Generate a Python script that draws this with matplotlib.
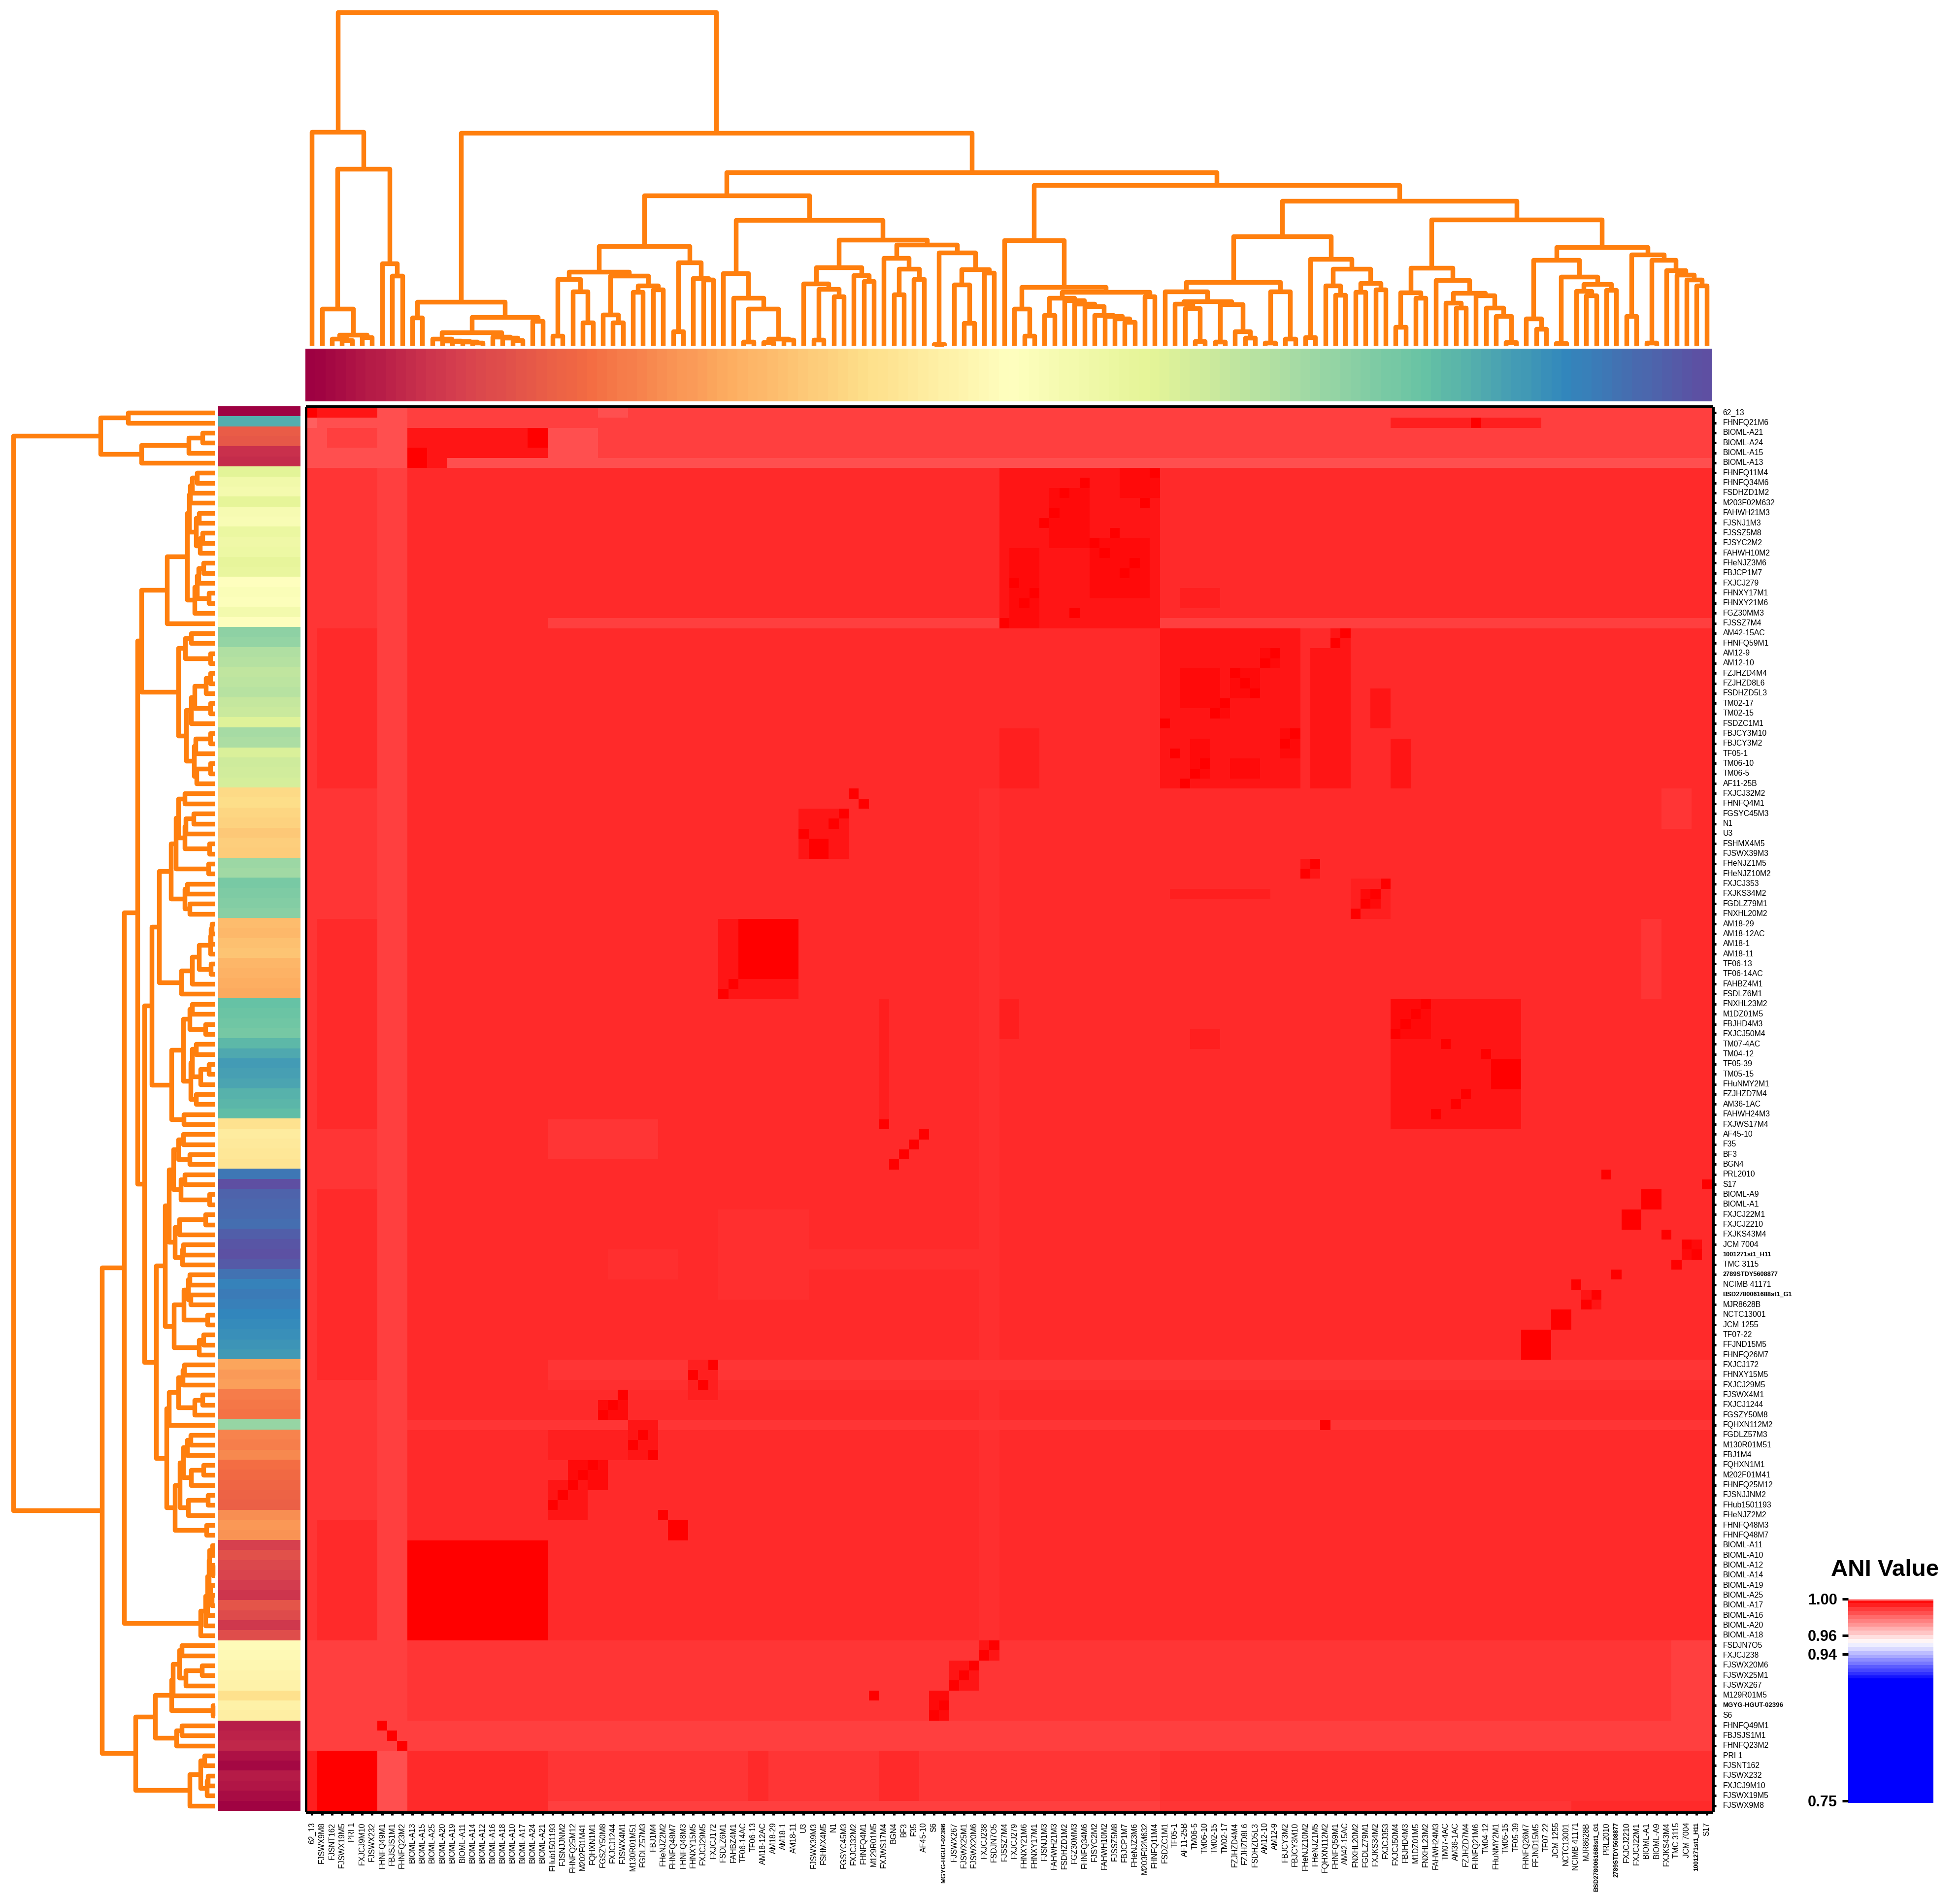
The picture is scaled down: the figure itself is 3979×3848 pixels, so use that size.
import numpy as np
import matplotlib
matplotlib.use('Agg')
import matplotlib.pyplot as plt
from matplotlib.colors import LinearSegmentedColormap

plt.rcParams['font.family'] = ['Liberation Sans', 'DejaVu Sans']

W, H, DPI = 3979, 3848, 300
ORANGE = '#ff7f0e'

row_labels = [
    '62_13', 'FHNFQ21M6', 'BIOML-A21', 'BIOML-A24', 'BIOML-A15', 'BIOML-A13', 'FHNFQ11M4', 'FHNFQ34M6',
    'FSDHZD1M2', 'M203F02M632', 'FAHWH21M3', 'FJSNJ1M3', 'FJSSZ5M8', 'FJSYC2M2', 'FAHWH10M2', 'FHeNJZ3M6',
    'FBJCP1M7', 'FXJCJ279', 'FHNXY17M1', 'FHNXY21M6', 'FGZ30MM3', 'FJSSZ7M4', 'AM42-15AC', 'FHNFQ59M1',
    'AM12-9', 'AM12-10', 'FZJHZD4M4', 'FZJHZD8L6', 'FSDHZD5L3', 'TM02-17', 'TM02-15', 'FSDZC1M1',
    'FBJCY3M10', 'FBJCY3M2', 'TF05-1', 'TM06-10', 'TM06-5', 'AF11-25B', 'FXJCJ32M2', 'FHNFQ4M1',
    'FGSYC45M3', 'N1', 'U3', 'FSHMX4M5', 'FJSWX39M3', 'FHeNJZ1M5', 'FHeNJZ10M2', 'FXJCJ353',
    'FXJKS34M2', 'FGDLZ79M1', 'FNXHL20M2', 'AM18-29', 'AM18-12AC', 'AM18-1', 'AM18-11', 'TF06-13',
    'TF06-14AC', 'FAHBZ4M1', 'FSDLZ6M1', 'FNXHL23M2', 'M1DZ01M5', 'FBJHD4M3', 'FXJCJ50M4', 'TM07-4AC',
    'TM04-12', 'TF05-39', 'TM05-15', 'FHuNMY2M1', 'FZJHZD7M4', 'AM36-1AC', 'FAHWH24M3', 'FXJWS17M4',
    'AF45-10', 'F35', 'BF3', 'BGN4', 'PRL2010', 'S17', 'BIOML-A9', 'BIOML-A1',
    'FXJCJ22M1', 'FXJCJ2210', 'FXJKS43M4', 'JCM 7004', '1001271st1_H11', 'TMC 3115', '2789STDY5608877', 'NCIMB 41171',
    'BSD2780061688st1_G1', 'MJR8628B', 'NCTC13001', 'JCM 1255', 'TF07-22', 'FFJND15M5', 'FHNFQ26M7', 'FXJCJ172',
    'FHNXY15M5', 'FXJCJ29M5', 'FJSWX4M1', 'FXJCJ1244', 'FGSZY50M8', 'FQHXN112M2', 'FGDLZ57M3', 'M130R01M51',
    'FBJ1M4', 'FQHXN1M1', 'M202F01M41', 'FHNFQ25M12', 'FJSNJJNM2', 'FHub1501193', 'FHeNJZ2M2', 'FHNFQ48M3',
    'FHNFQ48M7', 'BIOML-A11', 'BIOML-A10', 'BIOML-A12', 'BIOML-A14', 'BIOML-A19', 'BIOML-A25', 'BIOML-A17',
    'BIOML-A16', 'BIOML-A20', 'BIOML-A18', 'FSDJN7O5', 'FXJCJ238', 'FJSWX20M6', 'FJSWX25M1', 'FJSWX267',
    'M129R01M5', 'MGYG-HGUT-02396', 'S6', 'FHNFQ49M1', 'FBJSJS1M1', 'FHNFQ23M2', 'PRI 1', 'FJSNT162',
    'FJSWX232', 'FXJCJ9M10', 'FJSWX19M5', 'FJSWX9M8',
]

col_labels = [
    '62_13', 'FJSWX9M8', 'FJSNT162', 'FJSWX19M5', 'PRI 1', 'FXJCJ9M10', 'FJSWX232', 'FHNFQ49M1',
    'FBJSJS1M1', 'FHNFQ23M2', 'BIOML-A13', 'BIOML-A15', 'BIOML-A25', 'BIOML-A20', 'BIOML-A19', 'BIOML-A11',
    'BIOML-A14', 'BIOML-A12', 'BIOML-A16', 'BIOML-A18', 'BIOML-A10', 'BIOML-A17', 'BIOML-A24', 'BIOML-A21',
    'FHub1501193', 'FJSNJJNM2', 'FHNFQ25M12', 'M202F01M41', 'FQHXN1M1', 'FGSZY50M8', 'FXJCJ1244', 'FJSWX4M1',
    'M130R01M51', 'FGDLZ57M3', 'FBJ1M4', 'FHeNJZ2M2', 'FHNFQ48M7', 'FHNFQ48M3', 'FHNXY15M5', 'FXJCJ29M5',
    'FXJCJ172', 'FSDLZ6M1', 'FAHBZ4M1', 'TF06-14AC', 'TF06-13', 'AM18-12AC', 'AM18-29', 'AM18-1',
    'AM18-11', 'U3', 'FJSWX39M3', 'FSHMX4M5', 'N1', 'FGSYC45M3', 'FXJCJ32M2', 'FHNFQ4M1',
    'M129R01M5', 'FXJWS17M4', 'BGN4', 'BF3', 'F35', 'AF45-10', 'S6', 'MGYG-HGUT-02396',
    'FJSWX267', 'FJSWX25M1', 'FJSWX20M6', 'FXJCJ238', 'FSDJN7O5', 'FJSSZ7M4', 'FXJCJ279', 'FHNXY21M6',
    'FHNXY17M1', 'FJSNJ1M3', 'FAHWH21M3', 'FSDHZD1M2', 'FGZ30MM3', 'FHNFQ34M6', 'FJSYC2M2', 'FAHWH10M2',
    'FJSSZ5M8', 'FBJCP1M7', 'FHeNJZ3M6', 'M203F02M632', 'FHNFQ11M4', 'FSDZC1M1', 'TF05-1', 'AF11-25B',
    'TM06-5', 'TM06-10', 'TM02-15', 'TM02-17', 'FZJHZD4M4', 'FZJHZD8L6', 'FSDHZD5L3', 'AM12-10',
    'AM12-9', 'FBJCY3M2', 'FBJCY3M10', 'FHeNJZ10M2', 'FHeNJZ1M5', 'FQHXN112M2', 'FHNFQ59M1', 'AM42-15AC',
    'FNXHL20M2', 'FGDLZ79M1', 'FXJKS34M2', 'FXJCJ353', 'FXJCJ50M4', 'FBJHD4M3', 'M1DZ01M5', 'FNXHL23M2',
    'FAHWH24M3', 'TM07-4AC', 'AM36-1AC', 'FZJHZD7M4', 'FHNFQ21M6', 'TM04-12', 'FHuNMY2M1', 'TM05-15',
    'TF05-39', 'FHNFQ26M7', 'FFJND15M5', 'TF07-22', 'JCM 1255', 'NCTC13001', 'NCIMB 41171', 'MJR8628B',
    'BSD2780061688st1_G1', 'PRL2010', '2789STDY5608877', 'FXJCJ2210', 'FXJCJ22M1', 'BIOML-A1', 'BIOML-A9', 'FXJKS43M4',
    'TMC 3115', 'JCM 7004', '1001271st1_H11', 'S17',
]

small_labels = {'MGYG-HGUT-02396': 3.2, 'BSD2780061688st1_G1': 3.05, '1001271st1_H11': 3.1, '2789STDY5608877': 3.05}

# ANI levels
PURE, V1, V2, V3, BASE, FAINT, L1, L2, L3, L4 = 1.0, 0.9975, 0.9952, 0.9935, 0.9917, 0.9905, 0.9895, 0.9882, 0.9853, 0.9823

# row from, row to, col from, col to (inclusive), ANI; later ones sit on top of earlier ones
lighter_bands = [
    (6, 122, 0, 0, L1), (6, 21, 1, 6, L1), (38, 50, 1, 6, L1), (72, 77, 1, 6, L1), (97, 110, 1, 6, L1),
    (6, 130, 7, 9, L2), (131, 139, 7, 9, L3),
    (38, 133, 67, 68, FAINT),
    (21, 21, 24, 139, L2), (101, 101, 10, 139, L1), (95, 96, 24, 139, L1), (97, 97, 24, 139, FAINT),
    (123, 130, 0, 9, L2), (123, 130, 10, 139, L1), (131, 133, 0, 139, L2),
    (134, 138, 10, 23, BASE), (134, 138, 24, 84, L1), (139, 139, 24, 84, L2),
    (134, 138, 85, 139, FAINT), (139, 139, 85, 125, L1), (134, 138, 44, 45, BASE), (134, 138, 57, 60, BASE),
    (134, 139, 7, 9, L3), (123, 133, 136, 139, L2), (71, 74, 24, 34, L1), (38, 41, 135, 137, L1),
    (51, 58, 133, 134, L1), (80, 88, 41, 49, FAINT), (84, 86, 30, 36, FAINT), (84, 85, 50, 68, FAINT),
]
top_rows = [
    (0, 5, 0, 139, L2), (5, 5, 0, 139, L3), (0, 1, 7, 9, L3), (1, 5, 0, 0, L4), (1, 1, 1, 6, L3),
    (2, 3, 0, 1, L3), (2, 4, 2, 6, L2), (4, 5, 0, 6, L3), (2, 5, 7, 9, L3),
    (2, 5, 24, 28, L3), (0, 0, 1, 6, V2), (0, 0, 29, 31, L3), (1, 1, 108, 122, V3),
]
close_blocks = [
    # BIOML
    (2, 4, 10, 23, V2), (5, 5, 10, 13, V2), (2, 3, 22, 23, PURE), (4, 5, 10, 11, PURE), (113, 122, 10, 23, PURE),
    # FJSWX / PRI
    (134, 139, 1, 6, PURE), (134, 139, 0, 0, V3),
    # rows FHNFQ11M4..FJSSZ7M4
    (6, 21, 69, 84, V2), (8, 13, 74, 77, V1), (13, 18, 78, 83, V1), (6, 8, 81, 84, V1), (14, 21, 70, 72, V1),
    (18, 19, 87, 90, V3),
    # rows AM42..AF11
    (22, 37, 85, 98, V2), (26, 28, 92, 94, V1), (26, 29, 87, 90, V1), (29, 30, 90, 91, V1), (24, 25, 95, 96, V1),
    (33, 36, 88, 89, V1), (35, 36, 92, 94, V1), (32, 34, 97, 98, V1), (24, 37, 100, 103, V2),
    (28, 31, 106, 107, V2), (33, 37, 108, 109, V2), (32, 37, 69, 72, V3), (22, 23, 102, 103, V2),
    # rows FXJCJ32M2..FNXHL20M2
    (40, 44, 49, 53, V2), (43, 44, 50, 51, PURE), (45, 46, 99, 100, V2), (48, 48, 86, 95, V3),
    (47, 50, 104, 107, V3), (48, 49, 105, 106, V1),
    # AM18
    (51, 58, 41, 48, V2), (51, 56, 43, 48, PURE),
    # rows FNXHL23M2..FXJWS17M4
    (59, 71, 108, 120, V2), (59, 62, 108, 111, V1), (65, 67, 118, 120, PURE), (59, 71, 57, 57, V3),
    (62, 63, 88, 90, V3), (59, 62, 69, 70, V3),
    # close pairs on the blue rows
    (78, 79, 133, 134, PURE), (80, 81, 131, 132, PURE), (83, 84, 137, 138, V1), (90, 91, 124, 125, PURE),
    (92, 94, 121, 123, PURE), (88, 89, 127, 128, V2),
    # rows FXJCJ172..FHNFQ48M7
    (99, 100, 29, 31, V1), (102, 104, 24, 32, V3), (101, 104, 32, 34, V2), (105, 107, 26, 29, V1),
    (107, 110, 24, 27, V2), (111, 112, 36, 37, PURE), (95, 98, 38, 40, V3),
    # rows FSDJN7O5..FHNFQ23M2
    (125, 127, 64, 66, V2), (123, 124, 67, 68, V2), (128, 130, 62, 63, V1), (128, 128, 56, 56, V1),
]

# [height, first child, second child]; 0 is a leaf, heights read in pixels from the leaves
top_tree = [677,
    [434, 0, [359, [75, 0, [22, [14, 0, [11, 0, 0]], [17, 0, 0]]], [167, 0, [142, 0, 0]]]],
    [432,
        [89, [57, 0, 0],
            [58, [27, [14, 0, [10, 0, [9, 0, [8, 0, [6, 0, 0]]]]], [18, 0, [16, 0, [11, 0, 0]]]], [50, 0, 0]]],
        [352,
            [305,
                [202,
                    [150,
                        [135, [20, 0, 0], [110, 0, [47, 0, 0]]],
                        [142, [63, 0, [47, 0, 0]], [122, [109, 0, 0], [114, 0, 0]]]],
                    [169, [29, 0, 0], [137, 0, [134, 0, 0]]]],
                [255,
                    [147, 0, [97, 0, [75, [8, 0, 0], [14, [7, 0, 0], [12, 0, 0]]]]],
                    [215,
                        [159, [126, 0, [115, [12, 0, 0], [100, 0, 0]]], [143, 0, [131, 0, 0]]],
                        [205,
                            [178, 0, [156, [104, 0, 0], [135, 0, 0]]],
                            [189, [3, 0, 0], [155, [124, 0, [46, 0, 0]], [148, 0, 0]]]]]]],
            [326,
                [214, 0,
                    [119, [75, 0, [20, 0, 0]],
                        [109,
                            [97, [62, 0, 0], [92, 0, [85, 0, [80, 0, [62, 0, [60, 0, [55, 0, [48, 0, 0]]]]]]]],
                            [100, 0, 0]]]],
                [294,
                    [222,
                        [129,
                            [110, 0, [90, [85, 0, [76, 0, [9, 0, 0]]], [84, [8, 0, 0], [29, 0, [16, 0, 0]]]]],
                            [110, [6, 0, 0], [14, 0, 0]]],
                        [176, [17, 0, 0], [156, [122, 0, [103, 0, 0]], [127, [109, 0, 0], [114, 0, 0]]]]],
                    [256,
                        [158,
                            [108, [38, 0, 0], [97, 0, 0]],
                            [133, 0, [107, [87, 0, [77, 0, 0]], [102, 0, [77, 0, [60, 0, [7, 0, 0]]]]]]],
                        [200,
                            [174,
                                [55, 0, [34, 0, 0]],
                                [140, [5, 0, 0], [125, [111, 0, [102, 0, 0]], [113, 0, 0]]]],
                            [185,
                                [60, 0, 0],
                                [174, [6, 0, 0], [153, 0, [144, 0, [134, 0, [122, 0, 0]]]]]]]]]]]]]

left_tree = [409,
    [232, [176, 0, 0], [149, [53, [25, 0, 0], 0], 0]],
    [229,
        [184,
            [157,
                [149,
                    [97,
                        [56,
                            [52,
                                [50, [46, [36, 0, 0], 0], 0],
                                [38, [32, 0, 0], [30, [25, 0, 0], 0]]],
                            [41, [36, [33, [23, 0, 0], 0], [12, 0, 0]], 0]],
                        0],
                    [74,
                        [60, [48, 0, 0], [9, 0, 0]],
                        [58,
                            [48, [41, [18, [9, 0, 0], 0], [9, 0, 0]], 0],
                            [42, [39, [9, 0, 0], 0], [37, [9, 0, 0], 0]]]]],
                [143,
                    [128,
                        [113,
                            [89,
                                [79, [74, [61, 0, 0], [61, [59, [43, 0, 0], 0], [11, 0, 0]]], [13, 0, 0]],
                                [61, [56, 0, 0], [51, 0, 0]]],
                            [68, [46, [32, [9, [8, [6, 0, 0], 0], 0], [8, 0, 0]], 0], 0]],
                        [88,
                            [64,
                                [51, [46, 0, 0], [19, 0, 0]],
                                [49, [46, [38, 0, 0], [29, [12, 0, 0], 0]], [38, 0, 0]]],
                            [63, 0, 0]]],
                    [119,
                        [101,
                            [93,
                                [84, [74, [64, 0, 0], [51, 0, 0]], [69, [61, 0, 0], [11, 0, 0]]],
                                [81, [72, [19, 0, 0], 0], [66, [64, 0, 0], 0]]],
                            [83,
                                [63, [54, [51, 0, 0], [49, 0, 0]], [15, 0, 0]],
                                [32, [23, 0, 0], 0]]],
                        [98,
                            [93, [74, [65, [62, 0, 0], 0], [41, [25, 0, 0], 0]], 0],
                            [81,
                                [71, [64, [56, [49, 0, 0], 0], [48, [23, 0, 0], 0]], [54, [14, 0, 0], 0]],
                                [17, 0, 0]]]]]],
            [29, [19, [15, [12, [11, [5, 0, 0], [4, 0, 0]], [9, 0, [6, 0, 0]]], 0], 0], 0]],
        [161,
            [121,
                [88, [85, [72, [67, 0, 0], [59, [26, 0, 0], 0]], 0], [4, 0, 0]],
                [78, [67, 0, 0], 0]],
            [51, [29, [21, 0, 0], [16, [14, 0, 0], 0]], 0]]]]

cbar_ticks = [1.00, 0.96, 0.94, 0.75]
# colour bar is not linear in ANI: value and distance up the bar in pixels
cbar_values = [0.7474, 0.75, 0.94, 0.96, 1.0]
cbar_pos = [0, 4, 302, 340, 414]


def px_axes(fig, x0, y0, x1, y1):
    return fig.add_axes([x0 / W, 1 - y1 / H, (x1 - x0) / W, (y1 - y0) / H])


def pt(pixels):
    return pixels * 72 / DPI


def draw_tree(ax, node, counter, horizontal):
    if node == 0:
        counter[0] += 1
        return counter[0] - 0.5, 0
    h, a, b = node
    pa, ha = draw_tree(ax, a, counter, horizontal)
    pb, hb = draw_tree(ax, b, counter, horizontal)
    along = [pa, pa, pb, pb]
    height = [ha, h, h, hb]
    if horizontal:
        ax.plot(height, along, color=ORANGE, lw=pt(9.5), solid_joinstyle='round', solid_capstyle='butt', clip_on=False)
    else:
        ax.plot(along, height, color=ORANGE, lw=pt(9.5), solid_joinstyle='round', solid_capstyle='butt', clip_on=False)
    return (pa + pb) / 2, h


ani = np.full((len(row_labels), len(col_labels)), BASE)
for r0, r1, c0, c1, value in lighter_bands + top_rows + close_blocks:
    ani[r0:r1 + 1, c0:c1 + 1] = value
for r, name in enumerate(row_labels):
    ani[r, col_labels.index(name)] = PURE

ani_cmap = LinearSegmentedColormap.from_list('ani', [(0, '#0000ff'), (0.628, '#0000ff'), (0.812, '#ffffff'), (1, '#ff0000')], N=256)

fig = plt.figure(figsize=(W / DPI, H / DPI), dpi=DPI)

ax = px_axes(fig, 623, 828, 3475, 3677)
ax.imshow(ani, cmap=ani_cmap, vmin=0.75, vmax=1.0, extent=(0, 140, 140, 0), aspect='auto', interpolation='nearest')
for side, spine in ax.spines.items():
    spine.set_linewidth(pt(5))
    spine.set_position(('outward', pt(2.5)))
ax.yaxis.tick_right()
ax.set_xticks(np.arange(len(col_labels)) + 0.5, col_labels, rotation=90, ha='center', va='top')
ax.set_yticks(np.arange(len(row_labels)) + 0.5, row_labels, va='center')
ax.tick_params(axis='both', width=pt(5), length=pt(6), labelsize=3.77)
ax.tick_params(axis='x', pad=pt(15))
ax.tick_params(axis='y', pad=pt(14))
for lab in ax.get_xticklabels() + ax.get_yticklabels():
    if lab.get_text() in small_labels:
        lab.set_fontsize(small_labels[lab.get_text()])
        lab.set_fontweight('bold')

spectral = plt.get_cmap('Spectral')
strip_top = px_axes(fig, 620, 708, 3476, 815)
strip_top.imshow(np.arange(140).reshape(1, -1), cmap=spectral, aspect='auto', interpolation='nearest')
strip_top.axis('off')

strip_left = px_axes(fig, 443, 825, 610, 3677)
left_colors = np.array([col_labels.index(name) for name in row_labels]).reshape(-1, 1)
strip_left.imshow(left_colors, cmap=spectral, vmin=0, vmax=139, aspect='auto', interpolation='nearest')
strip_left.axis('off')

den_top = px_axes(fig, 623, 0, 3475, 702)
draw_tree(den_top, top_tree, [0], False)
den_top.set_xlim(0, 140)
den_top.set_ylim(0, 702)
den_top.axis('off')

den_left = px_axes(fig, 0, 828, 436, 3677)
draw_tree(den_left, left_tree, [0], True)
den_left.set_xlim(436, 0)
den_left.set_ylim(140, 0)
den_left.axis('off')

cax = px_axes(fig, 3752, 3247, 3925, 3661)
cax.set_yscale('function', functions=(lambda v: np.interp(v, cbar_values, cbar_pos),
                                      lambda p: np.interp(p, cbar_pos, cbar_values)))
edges = np.linspace(0.7474, 1.0, 59)
cax.pcolormesh([0, 1], edges, ((edges[:-1] + edges[1:]) / 2).reshape(-1, 1), cmap=ani_cmap, vmin=0.75, vmax=1.0)
cax.axhspan(0.9985, 1.0, color='#ff9a9a', lw=0)
cax.set_ylim(0.7474, 1.0)
cax.set_xticks([])
cax.set_yticks(cbar_ticks, [f'{t:.2f}' for t in cbar_ticks], fontweight='bold', fontsize=7.4)
cax.minorticks_off()
cax.tick_params(axis='y', width=pt(5), length=pt(12), pad=pt(10))
for spine in cax.spines.values():
    spine.set_visible(False)

fig.text(3827 / W, 1 - 3200 / H, 'ANI Value', fontsize=11.4, fontweight='bold', ha='center', va='baseline')

fig.savefig('out.png', dpi=DPI)
plt.close(fig)
